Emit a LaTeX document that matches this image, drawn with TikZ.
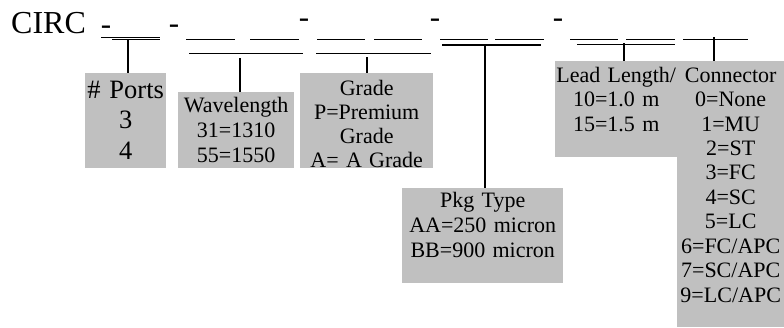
\documentclass[tikz,border=0pt]{standalone}
\usepackage{fontspec}
\setmainfont{Liberation Serif}
\definecolor{boxgray}{HTML}{C0C0C0}
\begin{document}
\begin{tikzpicture}[x=1pt,y=-1pt,
  ln/.style={line width=1.3pt},
  gbox/.style={fill=boxgray, inner xsep=0pt, inner ysep=0pt, align=center, anchor=north west, font=\fontsize{22}{24.5}\selectfont},
  dsh/.style={inner sep=0pt, anchor=base, font=\fontsize{31}{31}\selectfont}]
\useasboundingbox (0,0) rectangle (784,327);
% title
\node[inner sep=0pt, anchor=base west, font=\fontsize{32}{32}\selectfont] (circ) at (11,33) {CIRC};
% hyphens
\node[dsh] (d1) at (106,34.5) {-};
\node[dsh] (d2) at (174,33.5) {-};
\node[dsh] (d3) at (304,27) {-};
\node[dsh] (d4) at (435,27) {-};
\node[dsh] (d5) at (558,27) {-};
% blanks
\draw[ln] (101,37.3) -- (160,37.3);
\draw[ln] (112,39.3) -- (160,39.3);
\draw[ln] (186,39.3) -- (235,39.3);
\draw[ln] (250,39.3) -- (299,39.3);
\draw[ln] (189,53.3) -- (303,53.3);
\draw[ln] (317,39.3) -- (365,39.3);
\draw[ln] (374,39.3) -- (422,39.3);
\draw[ln] (316,53.3) -- (431,53.3);
\draw[ln] (440,39.3) -- (488,39.3);
\draw[ln] (495,39.3) -- (544,39.3);
\draw[ln] (442,45) -- (541,45);
\draw[ln] (570,39.3) -- (618,39.3);
\draw[ln] (626,39.3) -- (675,39.3);
\draw[ln] (577,44.5) -- (675,44.5);
\draw[ln] (683,39.3) -- (748,39.3);
% boxes
\node[gbox, text width=81pt, text height=25pt, text depth=70pt, font=\fontsize{26.5}{30.5}\selectfont] (ports) at (85,73) {\# Ports\\3\\4};
\node[gbox, text width=116pt, text height=20pt, text depth=56pt, font=\fontsize{22}{25}\selectfont] (wave) at (178,92) {Wavelength\\31=1310\\55=1550};
\node[gbox, text width=133pt, text height=22pt, text depth=73pt, font=\fontsize{22}{24}\selectfont] (grade) at (300,73) {Grade\\P=Premium\\Grade\\A= A Grade};
\node[gbox, text width=161pt, text height=19pt, text depth=76pt, font=\fontsize{22}{25.3}\selectfont] (pkg) at (402,188) {Pkg Type\\AA=250 micron\\BB=900 micron};
\node[gbox, text width=122pt, text height=21pt, text depth=75pt] (lead) at (555,61) {Lead Length/\\10=1.0 m\\15=1.5 m};
\node[gbox, text width=107pt, text height=21pt, text depth=245pt, font=\fontsize{22}{24.44}\selectfont] (conn) at (677,61) {Connector\\0=None\\1=MU\\2=ST\\3=FC\\4=SC\\5=LC\\6=FC/APC\\7=SC/APC\\9=LC/APC};
% connectors
\coordinate (s1) at (128,39.3);
\coordinate (s2) at (240,58);
\coordinate (s3) at (367,57);
\coordinate (s4) at (485,45);
\coordinate (s5) at (624,43);
\coordinate (s6) at (714,37);
\draw[ln] (s1) -- (s1 |- ports.north);
\draw[ln] (s2) -- (s2 |- wave.north);
\draw[ln] (s3) -- (s3 |- grade.north);
\draw[ln] (s4) -- (s4 |- pkg.north);
\draw[ln] (s5) -- (s5 |- lead.north);
\draw[ln] (s6) -- (s6 |- conn.north);
\end{tikzpicture}
\end{document}
